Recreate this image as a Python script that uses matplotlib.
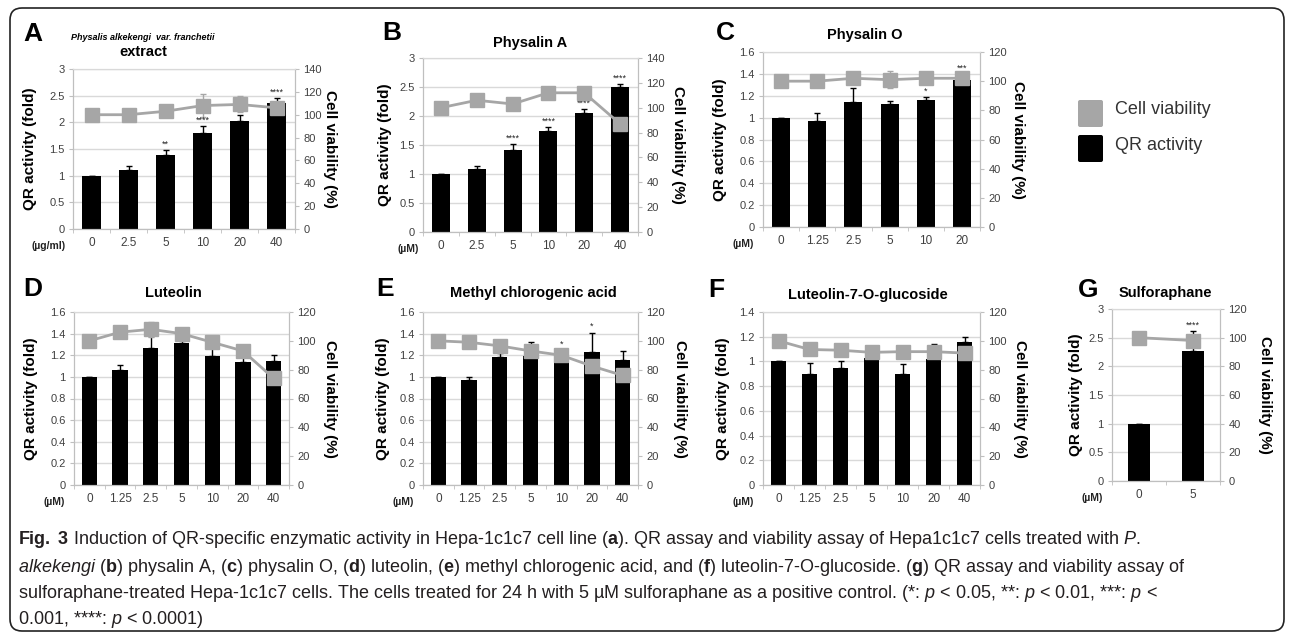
import numpy as np
import matplotlib
matplotlib.use('Agg')
import matplotlib.pyplot as plt
import matplotlib.transforms as mtransforms
from matplotlib import font_manager
from matplotlib.patches import FancyBboxPatch
from matplotlib.ticker import FuncFormatter

plt.rcParams['font.family'] = ['Liberation Sans', 'DejaVu Sans']

# ---- values ----
doses_a = ['0', '2.5', '5', '10', '20', '40']
qr_a = [1.00, 1.10, 1.38, 1.80, 2.03, 2.36]
qr_err_a = [0, 0.08, 0.10, 0.13, 0.10, 0.10]
via_a = [100, 100, 103, 108, 109, 106]
via_err_a = [2, 5, 3, 10, 7, 5]
stars_a = ['', '', '**', '****', '****', '****']

doses_b = ['0', '2.5', '5', '10', '20', '40']
qr_b = [1.00, 1.08, 1.41, 1.75, 2.06, 2.50]
qr_err_b = [0, 0.05, 0.10, 0.06, 0.06, 0.05]
via_b = [100, 106, 103, 112, 112, 87]
via_err_b = [1, 1, 1, 1, 1, 1]
stars_b = ['', '', '****', '****', '****', '****']

doses_c = ['0', '1.25', '2.5', '5', '10', '20']
qr_c = [1.00, 0.97, 1.14, 1.125, 1.16, 1.34]
qr_err_c = [0, 0.07, 0.13, 0.03, 0.03, 0.06]
via_c = [100, 100, 102, 101, 102, 102]
via_err_c = [1, 1, 2, 6, 2, 4]
stars_c = ['', '', '', '', '*', '***']

doses_d = ['0', '1.25', '2.5', '5', '10', '20', '40']
qr_d = [1.00, 1.06, 1.27, 1.31, 1.19, 1.14, 1.15]
qr_err_d = [0, 0.05, 0.11, 0.05, 0.08, 0.04, 0.05]
via_d = [100, 106, 108, 105, 99, 93, 74]
via_err_d = [1, 2, 5, 2, 2, 2, 2]
stars_d = ['', '', '**', '***', '*', '', '']

doses_e = ['0', '1.25', '2.5', '5', '10', '20', '40']
qr_e = [1.00, 0.97, 1.18, 1.19, 1.14, 1.23, 1.16]
qr_err_e = [0, 0.03, 0.04, 0.13, 0.11, 0.18, 0.08]
via_e = [100, 99, 96.5, 93, 90, 82.5, 76]
via_err_e = [1, 1, 1, 2, 2, 2, 2]
stars_e = ['', '', '', '', '*', '*', '']

doses_f = ['0', '1.25', '2.5', '5', '10', '20', '40']
qr_f = [1.00, 0.90, 0.95, 1.03, 0.90, 1.02, 1.16]
qr_err_f = [0, 0.09, 0.05, 0.09, 0.08, 0.12, 0.04]
via_f = [100, 94, 93.5, 92, 92.5, 92.5, 91.5]
via_err_f = [1, 1, 1, 1, 1, 1, 1]
stars_f = ['', '', '', '', '', '', '']

doses_g = ['0', '5']
qr_g = [1.00, 2.26]
qr_err_g = [0, 0.36]
via_g = [100, 98]
via_err_g = [1, 4]
stars_g = ['', '****']

W, H = 1292, 637
GRAY = '#a6a6a6'
GRID = '#d9d9d9'
SPINE = '#bfbfbf'
TICK = '#404040'

fig = plt.figure(figsize=(W / 100, H / 100), dpi=100)
px = mtransforms.IdentityTransform()


def fig_xy(x, y):
    return x / W, 1 - y / H


def draw_panel(box, doses, qr, qr_err, via, via_err, stars, qr_max, qr_step,
               via_max, unit, bar_w=0.5, left_off=-34, right_off=40, unit_x=None):
    l, t, r, b = box
    ax = fig.add_axes([l / W, 1 - b / H, (r - l) / W, (b - t) / H])
    x = np.arange(len(doses))
    ax.bar(x, qr, width=bar_w, color='black', zorder=2)
    ax.errorbar(x, qr, yerr=[np.zeros(len(qr)), qr_err], fmt='none',
                ecolor='black', elinewidth=1, capsize=2.5, capthick=1, zorder=3)
    ax.set_xlim(-0.5, len(doses) - 0.5)
    ax.set_ylim(0, qr_max)
    ax.set_yticks(np.arange(0, qr_max + 1e-9, qr_step))
    ax.yaxis.set_major_formatter(FuncFormatter(lambda v, p: f'{v:g}'))
    ax.set_xticks(x)
    ax.set_xticklabels(doses)
    ax.set_xticks(np.arange(-0.5, len(doses)), minor=True)
    ax.tick_params(axis='x', which='major', length=0, pad=6, labelsize=8.5,
                   labelcolor=TICK)
    ax.tick_params(axis='x', which='minor', length=3, color=SPINE)
    ax.tick_params(axis='y', length=3, color=SPINE, pad=3, labelsize=8,
                   labelcolor=TICK)
    ax.grid(axis='y', color=GRID, lw=1)
    ax.set_axisbelow(True)
    for s in ax.spines.values():
        s.set_color(SPINE)
    ax.spines['top'].set_color(GRID)
    ax.set_ylabel('QR activity (fold)', fontsize=11, fontweight='bold')
    ax.yaxis.set_label_coords(left_off / (r - l), 0.5)

    ax2 = ax.twinx()
    ax2.errorbar(x, via, yerr=via_err, color=GRAY, marker='s', ms=10.5, lw=2,
                 elinewidth=1, capsize=2.5, ecolor=GRAY, zorder=3)
    ax2.set_ylim(0, via_max)
    ax2.set_yticks(np.arange(0, via_max + 1, 20))
    ax2.tick_params(axis='y', length=3, color=SPINE, pad=3, labelsize=8,
                    labelcolor=TICK)
    for s in ax2.spines.values():
        s.set_color(SPINE)
    ax2.spines['top'].set_color(GRID)
    ax2.set_ylabel('Cell viability (%)', fontsize=11, fontweight='bold',
                   rotation=270, va='center')
    ax2.yaxis.set_label_coords(1 + right_off / (r - l), 0.5)

    for xi, v, e, s in zip(x, qr, qr_err, stars):
        if s:
            ax2.annotate(s, (xi, v + e), xycoords=ax.transData,
                         xytext=(0, 1), textcoords='offset points',
                         ha='center', va='bottom', fontsize=6.5, color='#222222')

    ux, uy = fig_xy(unit_x if unit_x is not None else l - 20, b + 17)
    fig.text(ux, uy, unit, fontsize=7.5, fontweight='bold', color='#222222',
             ha='center', va='center')
    return ax


draw_panel((73, 69, 295, 229), doses_a, qr_a, qr_err_a, via_a, via_err_a,
           stars_a, 3, 0.5, 140, '(µg/ml)', left_off=-36, right_off=35, unit_x=49)
draw_panel((423, 58, 638, 232), doses_b, qr_b, qr_err_b, via_b, via_err_b,
           stars_b, 3, 0.5, 140, '(µM)', left_off=-31, unit_x=408)
draw_panel((763, 52, 980, 227), doses_c, qr_c, qr_err_c, via_c, via_err_c,
           stars_c, 1.6, 0.2, 120, '(µM)', left_off=-36, right_off=38)
draw_panel((74, 312, 289, 485), doses_d, qr_d, qr_err_d, via_d, via_err_d,
           stars_d, 1.6, 0.2, 120, '(µM)', left_off=-36, right_off=41)
draw_panel((423, 312, 638, 485), doses_e, qr_e, qr_err_e, via_e, via_err_e,
           stars_e, 1.6, 0.2, 120, '(µM)', left_off=-33, right_off=42)
draw_panel((763, 312, 980, 485), doses_f, qr_f, qr_err_f, via_f, via_err_f,
           stars_f, 1.4, 0.2, 120, '(µM)', left_off=-33, right_off=40)
draw_panel((1112, 309, 1220, 481), doses_g, qr_g, qr_err_g, via_g, via_err_g,
           stars_g, 3, 0.5, 120, '(µM)', bar_w=0.4, left_off=-29, right_off=45)

# panel letters and titles
for letter, (lx, ly) in zip('ABCDEFG', [(33, 34), (392, 33), (725, 33), (33, 289),
                                        (385, 289), (716, 290), (1088, 290)]):
    fig.text(*fig_xy(lx, ly), letter, fontsize=19, fontweight='bold',
             ha='center', va='center')

fig.text(*fig_xy(143, 38), 'Physalis alkekengi  var. franchetii', fontsize=6.5,
         fontweight='bold', fontstyle='italic', ha='center', va='center')
titles = [('extract', 143, 52), ('Physalin A', 530, 43), ('Physalin O', 865, 35),
          ('Luteolin', 173, 293), ('Methyl chlorogenic acid', 533, 293),
          ('Luteolin-7-O-glucoside', 868, 295), ('Sulforaphane', 1165, 293)]
for txt, tx, ty in titles:
    fig.text(*fig_xy(tx, ty), txt, fontsize=10.5, fontweight='bold',
             ha='center', va='center')

# legend
for (y0, color, label, ty) in [(100, GRAY, 'Cell viability', 110),
                               (135, 'black', 'QR activity', 145)]:
    fig.patches.append(FancyBboxPatch((1078, H - y0 - 27), 25, 27,
                                      boxstyle='round,pad=0,rounding_size=2',
                                      transform=px, facecolor=color,
                                      edgecolor='none'))
    fig.text(*fig_xy(1115, ty), label, fontsize=13, color='#333333',
             ha='left', va='center')

# outer rounded frame
fig.patches.append(FancyBboxPatch((10, 6), 1274, 623,
                                  boxstyle='round,pad=0,rounding_size=12',
                                  transform=px, facecolor='none',
                                  edgecolor='#222222', lw=1.2))

# caption
names = {f.name for f in font_manager.fontManager.ttflist}
cap_font = 'Liberation Sans Narrow' if 'Liberation Sans Narrow' in names else 'Liberation Sans'
plt.rcParams['mathtext.fontset'] = 'custom'
plt.rcParams['mathtext.rm'] = cap_font
plt.rcParams['mathtext.it'] = cap_font + ':italic'
plt.rcParams['mathtext.bf'] = cap_font + ':bold'

caption = [
    r'$\mathbf{Fig.}$ $\mathbf{3}$ Induction of QR-specific enzymatic activity in Hepa-1c1c7 cell line ($\mathbf{a}$). '
    r'QR assay and viability assay of Hepa1c1c7 cells treated with $\mathit{P.}$',
    r'$\mathit{alkekengi}$ ($\mathbf{b}$) physalin A, ($\mathbf{c}$) physalin O, ($\mathbf{d}$) luteolin, '
    r'($\mathbf{e}$) methyl chlorogenic acid, and ($\mathbf{f}$) luteolin-7-O-glucoside. ($\mathbf{g}$) '
    r'QR assay and viability assay of',
    r'sulforaphane-treated Hepa-1c1c7 cells. The cells treated for 24 h with 5 µM sulforaphane as a '
    r'positive control. (*: $\mathit{p}$ < 0.05, **: $\mathit{p}$ < 0.01, ***: $\mathit{p}$ <',
    r'0.001, ****: $\mathit{p}$ < 0.0001)',
]
cap_texts = [fig.text(*fig_xy(18, y), line, fontsize=12, family=cap_font,
                      color='#231f20', ha='left', va='center')
             for line, y in zip(caption, [540, 567, 594, 620])]
renderer = fig.canvas.get_renderer()
scale = (1140 - 18) / cap_texts[0].get_window_extent(renderer).width
for t in cap_texts:
    t.set_fontsize(12 * scale)

fig.savefig('out.png', dpi=100)
